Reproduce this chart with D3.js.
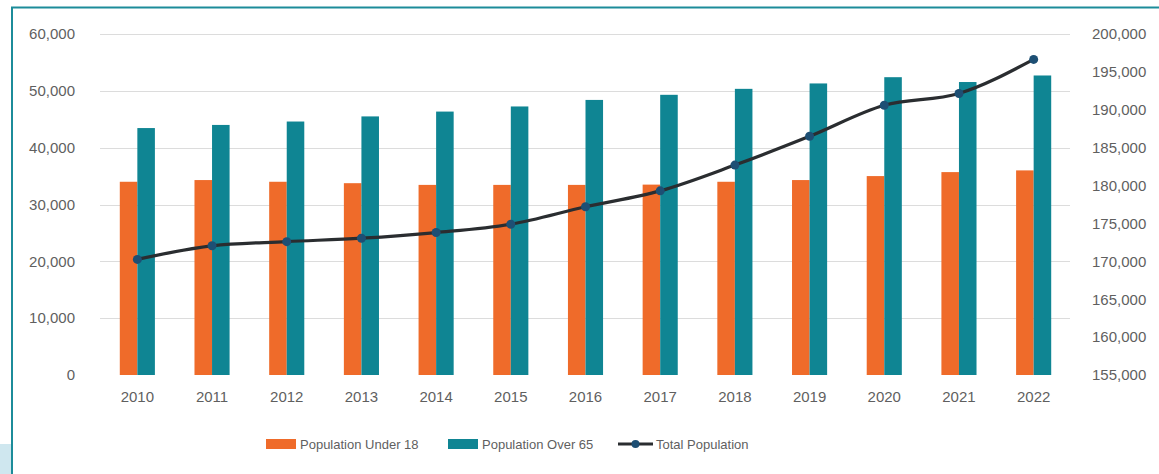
<!DOCTYPE html>
<html>
<head>
<meta charset="utf-8">
<script src="https://cdn.jsdelivr.net/npm/d3@7"></script>
<style>
  html, body { margin: 0; padding: 0; background: #fff; }
  #container { width: 1159px; height: 474px; position: relative; overflow: hidden; }
  text { font-family: "Liberation Sans", Arial, sans-serif; }
</style>
</head>
<body>
<div id="container"></div>
<script>
// Data.
const years = ["2010", "2011", "2012", "2013", "2014", "2015", "2016", "2017", "2018", "2019", "2020", "2021", "2022"];
const under18 = [34000, 34300, 34000, 33750, 33450, 33450, 33450, 33500, 34000, 34300, 35000, 35700, 36000];
const over65 = [43450, 44000, 44600, 45500, 46350, 47250, 48400, 49300, 50350, 51300, 52400, 51550, 52700];
const totalPop = [170250, 172050, 172600, 173050, 173800, 174900, 177200, 179300, 182700, 186500, 190600, 192150, 196650];
const leftTicks = [0, 10000, 20000, 30000, 40000, 50000, 60000];
const rightTicks = [155000, 160000, 165000, 170000, 175000, 180000, 185000, 190000, 195000, 200000];
const seriesNames = ["Population Under 18", "Population Over 65", "Total Population"];

// Chart dimensions.
const width = 1159;
const height = 474;
const plotLeft = 100;
const plotRight = 1071;
const plotTop = 34;
const plotBottom = 375;

const orange = "#ef6b2a";
const teal = "#0f8593";
const lineColor = "#2a2d30";
const markerColor = "#1d4f74";
const labelColor = "#5f5f5f";

const svg = d3.create("svg").attr("width", width).attr("height", height);

// Frame: teal border on the top and left, pale blue tab bottom-left.
svg.append("rect").attr("x", 0).attr("y", 444).attr("width", 11).attr("height", 30).attr("fill", "#cfe7ef");
svg.append("line").attr("x1", 11).attr("x2", width).attr("y1", 7.5).attr("y2", 7.5)
  .attr("stroke", "#1c8c9a").attr("stroke-width", 2);
svg.append("line").attr("x1", 12).attr("x2", 12).attr("y1", 7).attr("y2", height)
  .attr("stroke", "#1c8c9a").attr("stroke-width", 2);

// Scales.
const x0 = d3.scaleBand().domain(years).range([plotLeft, plotRight])
  .paddingInner(0.53).paddingOuter(0.265);
const x1 = d3.scaleBand().domain([0, 1]).range([0, x0.bandwidth()]);
const y = d3.scaleLinear().domain([0, 60000]).range([plotBottom, plotTop]);
const y2 = d3.scaleLinear().domain([155000, 200000]).range([plotBottom, plotTop]);

// Gridlines.
svg.append("g")
  .selectAll("line")
  .data(leftTicks.slice(1))
  .join("line")
  .attr("x1", plotLeft).attr("x2", plotRight - 1)
  .attr("y1", (d) => Math.round(y(d)) + 0.5).attr("y2", (d) => Math.round(y(d)) + 0.5)
  .attr("stroke", "#dcdcdc").attr("stroke-width", 1);

// Left axis.
const fmt = d3.format(",");
svg.append("g")
  .attr("transform", `translate(75,0)`)
  .call(d3.axisLeft(y).tickValues(leftTicks).tickFormat(fmt).tickSize(0).tickPadding(0))
  .call((g) => g.select(".domain").remove())
  .call((g) => g.selectAll("text").attr("fill", labelColor).attr("font-size", 15)
    .attr("font-family", "Liberation Sans, Arial, sans-serif").attr("dy", "0.32em"));

// Right axis.
svg.append("g")
  .attr("transform", `translate(1092,0)`)
  .call(d3.axisRight(y2).tickValues(rightTicks).tickFormat(fmt).tickSize(0).tickPadding(0))
  .call((g) => g.select(".domain").remove())
  .call((g) => g.selectAll("text").attr("fill", labelColor).attr("font-size", 15)
    .attr("font-family", "Liberation Sans, Arial, sans-serif").attr("dy", "0.32em"));

// Bottom axis (year labels).
svg.append("g")
  .attr("transform", `translate(0,${plotBottom})`)
  .call(d3.axisBottom(x0).tickSize(0).tickPadding(16))
  .call((g) => g.select(".domain").remove())
  .call((g) => g.selectAll("text").attr("fill", labelColor).attr("font-size", 15)
    .attr("font-family", "Liberation Sans, Arial, sans-serif"));

// Bars.
const barGroups = svg.append("g")
  .selectAll("g")
  .data(years)
  .join("g")
  .attr("transform", (d) => `translate(${x0(d)},0)`);

barGroups.append("rect")
  .attr("x", x1(0))
  .attr("width", x1.bandwidth())
  .attr("y", (d, i) => y(under18[i]))
  .attr("height", (d, i) => y(0) - y(under18[i]))
  .attr("fill", orange);

barGroups.append("rect")
  .attr("x", x1(1))
  .attr("width", x1.bandwidth())
  .attr("y", (d, i) => y(over65[i]))
  .attr("height", (d, i) => y(0) - y(over65[i]))
  .attr("fill", teal);

// Total population line.
const cx = (d) => x0(d) + x0.bandwidth() / 2;
const line = d3.line()
  .x((d, i) => cx(years[i]))
  .y((d) => y2(d))
  .curve(d3.curveMonotoneX);

svg.append("path")
  .datum(totalPop)
  .attr("d", line)
  .attr("fill", "none")
  .attr("stroke", lineColor)
  .attr("stroke-width", 3.2)
  .attr("stroke-linecap", "round");

svg.append("g")
  .selectAll("circle")
  .data(totalPop)
  .join("circle")
  .attr("cx", (d, i) => cx(years[i]))
  .attr("cy", (d) => y2(d))
  .attr("r", 4.5)
  .attr("fill", markerColor);

// Legend.
const legend = svg.append("g").attr("font-size", 13).attr("fill", labelColor);
legend.append("rect").attr("x", 266).attr("y", 439).attr("width", 30).attr("height", 10).attr("fill", orange);
legend.append("text").attr("x", 300).attr("y", 444).attr("dy", "0.35em").text(seriesNames[0]);
legend.append("rect").attr("x", 448).attr("y", 439).attr("width", 30).attr("height", 10).attr("fill", teal);
legend.append("text").attr("x", 482).attr("y", 444).attr("dy", "0.35em").text(seriesNames[1]);
legend.append("line").attr("x1", 618).attr("x2", 653).attr("y1", 444).attr("y2", 444)
  .attr("stroke", lineColor).attr("stroke-width", 3.2);
legend.append("circle").attr("cx", 635.5).attr("cy", 444).attr("r", 4).attr("fill", markerColor);
legend.append("text").attr("x", 656).attr("y", 444).attr("dy", "0.35em").text(seriesNames[2]);

document.getElementById("container").append(svg.node());
</script>
</body>
</html>
